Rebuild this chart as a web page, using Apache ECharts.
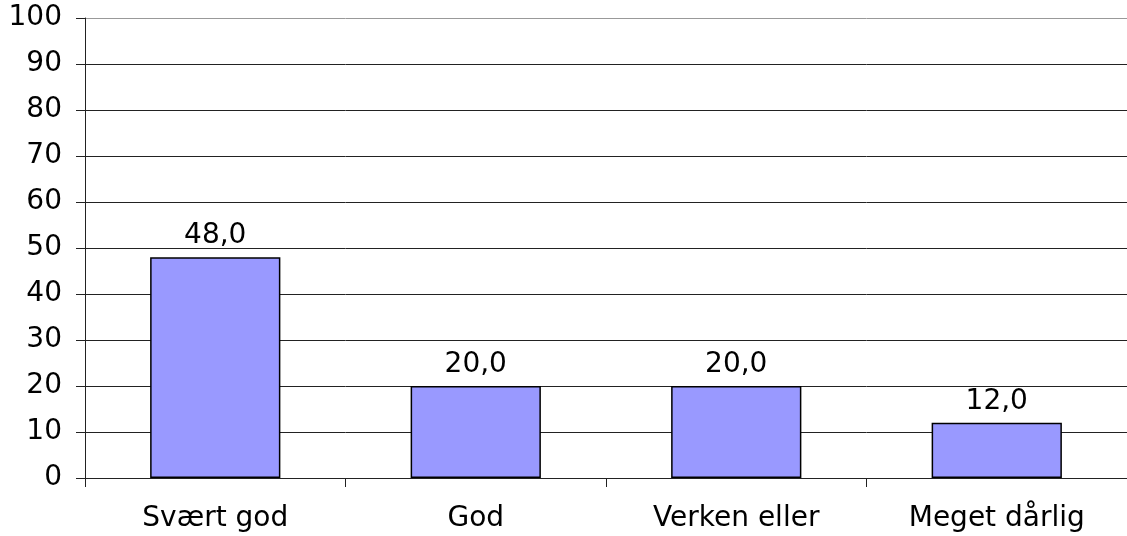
<!DOCTYPE html>
<html>
<head>
<meta charset="utf-8">
<script src="https://cdn.jsdelivr.net/npm/echarts@6/dist/echarts.min.js"></script>
<style>
  html, body { margin: 0; padding: 0; background: #fff; }
  #chart { width: 1127px; height: 536px; }
</style>
</head>
<body>
<div id="chart"></div>
<script>
// svar-kategorier og prosent
const categories = ['Svært god', 'God', 'Verken eller', 'Meget dårlig']
const values = [48.0, 20.0, 20.0, 12.0]
const yTicks = [0, 10, 20, 30, 40, 50, 60, 70, 80, 90, 100]

let chart = echarts.init(document.getElementById('chart'))
const font = 'DejaVu Sans, sans-serif'
// top gridline is lighter than the rest
let gridColors = yTicks.map((t, i) => i === yTicks.length - 1 ? '#999' : '#222')

chart.setOption({
  animation: false,
  grid: { left: 85, top: 18, width: 1048, height: 460 },
  xAxis: {
    type: 'category',
    data: categories,
    axisLine: { lineStyle: { color: '#222', width: 1 } },
    axisTick: { show: true, length: 9, alignWithLabel: false, lineStyle: { color: '#222' } },
    axisLabel: { color: '#000', fontSize: 28, fontFamily: font, margin: 27 }
  },
  yAxis: {
    type: 'value',
    min: 0, max: 100, interval: 10,
    axisLine: { show: true, lineStyle: { color: '#222' } },
    axisTick: { show: true, length: 9, lineStyle: { color: '#222' } },
    axisLabel: { color: '#000', fontSize: 28, fontFamily: font, margin: 23 },
    splitLine: { show: true, lineStyle: { color: gridColors, width: 1 } }
  },
  series: [{
    type: 'bar',
    data: values,
    barWidth: '50%',
    itemStyle: { color: '#9999FF', borderColor: '#000', borderWidth: 1.5 },
    label: {
      show: true,
      position: 'top',
      distance: 7,
      color: '#000',
      fontSize: 28,
      fontFamily: font,
      formatter: p => p.value.toFixed(1).replace('.', ',')
    }
  }]
})
</script>
</body>
</html>
